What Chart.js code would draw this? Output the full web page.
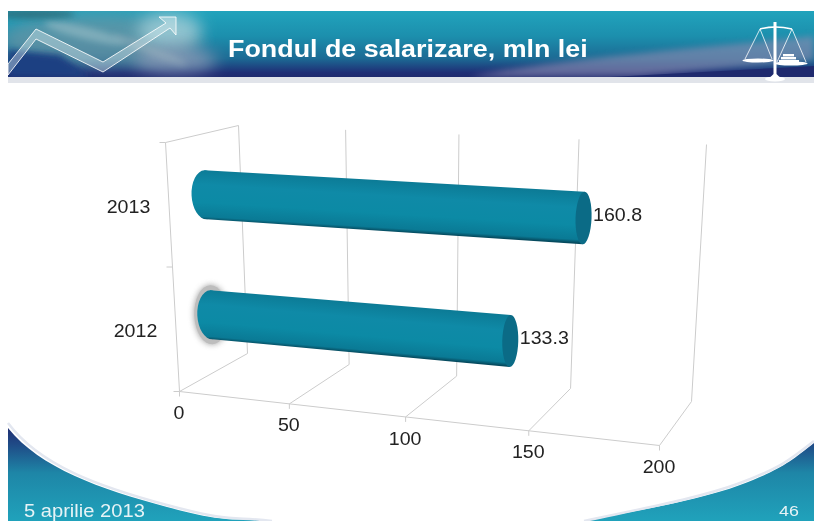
<!DOCTYPE html>
<html lang="ro">
<head>
<meta charset="utf-8">
<style>
html,body{margin:0;padding:0;background:#fff;width:814px;height:521px;overflow:hidden}
#stage{position:relative;width:814px;height:521px;font-family:"Liberation Sans",Arial,sans-serif}
#bg,#c{position:absolute;left:0;top:0}
.t{position:absolute;white-space:nowrap;transform-origin:left center}
#title{left:228px;top:35px;font-size:23.5px;font-weight:bold;color:#fff;line-height:28px;transform:scaleX(1.143)}
#date{left:24px;top:501px;font-size:17.5px;color:#e6f3f6;line-height:20px;transform:scaleX(1.15)}
#page{left:779px;top:502px;font-size:15.5px;color:#e6f3f6;line-height:18px;transform:scaleX(1.15)}
</style>
</head>
<body>
<div id="stage">
<svg id="bg" width="814" height="521" viewBox="0 0 814 521" xmlns="http://www.w3.org/2000/svg">
  <defs>
    <linearGradient id="band" x1="0" y1="11" x2="0" y2="77" gradientUnits="userSpaceOnUse">
      <stop offset="0" stop-color="#21a3bc"/><stop offset=".38" stop-color="#1c8fad"/>
      <stop offset=".72" stop-color="#1c6a94"/><stop offset=".93" stop-color="#1f2f76"/><stop offset="1" stop-color="#1f2a6e"/>
    </linearGradient>
    <linearGradient id="foot" x1="0" y1="425" x2="0" y2="521" gradientUnits="userSpaceOnUse">
      <stop offset="0" stop-color="#1f2a70"/><stop offset=".2" stop-color="#1f4a86"/>
      <stop offset=".5" stop-color="#1e86a7"/><stop offset="1" stop-color="#20a2bb"/>
    </linearGradient>
    <filter id="b8" x="-40%" y="-80%" width="180%" height="260%"><feGaussianBlur stdDeviation="8"/></filter>
    <filter id="b3" x="-30%" y="-80%" width="160%" height="260%"><feGaussianBlur stdDeviation="3"/></filter>
    <clipPath id="bandClip"><rect x="8" y="11" width="806" height="66"/></clipPath>
  </defs>
  <rect x="8" y="77" width="806" height="6" fill="#e1e4ea"/>
  <rect x="8" y="11" width="806" height="66" fill="url(#band)"/>
  <g clip-path="url(#bandClip)">
    <ellipse cx="100" cy="40" rx="100" ry="26" fill="#6f96a5" opacity=".7" filter="url(#b8)"/>
    <ellipse cx="170" cy="30" rx="32" ry="18" fill="#a6d3dc" opacity=".75" filter="url(#b8)"/>
    <ellipse cx="175" cy="60" rx="42" ry="13" fill="#8f9cb8" opacity=".8" filter="url(#b8)"/>
    <ellipse cx="85" cy="33" rx="42" ry="6" transform="rotate(14 85 33)" fill="#8fb7c2" opacity=".7" filter="url(#b3)"/>
    <ellipse cx="150" cy="50" rx="40" ry="4" transform="rotate(22 150 50)" fill="#9db4c0" opacity=".5" filter="url(#b3)"/>
    <ellipse cx="30" cy="14" rx="45" ry="5" fill="#2f6f7f" opacity=".9" filter="url(#b3)"/>
    <path d="M8 50 L60 55 L90 77 L8 77Z" fill="#1c3f82" filter="url(#b3)"/>
    <path d="M470 77 C560 58 680 50 814 36 L814 60 L640 76Z" fill="#8f8fb4" opacity=".6" filter="url(#b3)"/>
    <path d="M610 77 L814 66 L814 77Z" fill="#1f2a6e"/>
    <polygon points="8,64 36,29 103,62 166,23 159,17 176,17 176,35 170,28 103,72 36,39 8,75" fill="#dfeef3" fill-opacity=".38" stroke="#fff" stroke-opacity=".85" stroke-width="1"/>
  </g>
  <g fill="#fff" stroke="#fff">
    <path d="M773.5 22h3v52l3 3h-9l3-3z" stroke="none"/>
    <ellipse cx="775" cy="79" rx="10" ry="2.5" stroke="none"/>
    <path d="M760 29 Q775 25 792 29" fill="none" stroke-width="1.4"/>
    <path d="M760 29 L745 59 M760 29 L772 59 M792 29 L777 62 M792 29 L806 62" fill="none" stroke-width=".8"/>
    <ellipse cx="758" cy="60.5" rx="15.5" ry="2" stroke="none"/>
    <ellipse cx="791" cy="63.5" rx="16.5" ry="2" stroke="none"/>
    <rect x="783" y="54" width="11" height="2.4" stroke="none"/>
    <rect x="781" y="57" width="15" height="2.4" stroke="none"/>
    <rect x="779" y="60" width="20" height="2.6" stroke="none"/>
  </g>
  <path d="M8 521 L8 428 C40 468 100 489 167 507 S232 517 272 521Z" fill="url(#foot)"/>
  <path d="M8 423 C40 466 100 487 167 505 S232 516 272 521" fill="none" stroke="#e3e7f0" stroke-width="2.5"/>
  <path d="M584 521 C640 510 700 500 740 485 S790 462 814 443 L814 521Z" fill="url(#foot)"/>
  <path d="M584 521 C640 509 700 498 740 483 S790 460 814 441" fill="none" stroke="#e3e7f0" stroke-width="2.5"/>
</svg>
<canvas id="c" width="814" height="521"></canvas>
<div class="t" id="title">Fondul de salarizare, mln lei</div>
<div class="t" id="date">5 aprilie 2013</div>
<div class="t" id="page">46</div>
</div>
<script src="https://cdn.jsdelivr.net/npm/chart.js@4/dist/chart.umd.min.js"></script>
<script>
const categories = ['2013', '2012'];
const fondValues = [160.8, 133.3];
const xTickValues = [0, 50, 100, 150, 200];

/* The 3D box the slide's chart sits in: eight screen corners and a perspective warp. */
const BOX = {
  fbl:[179,391], fbr:[659,445], ftl:[165,142], ftr:[675,175],
  bbl:[247,353], bbr:[691,401], btl:[238,125], btr:[706,144], warp:1.123
};
const LABEL_FONT='18.5px "Liberation Sans",Arial,sans-serif';
const CAP_INSET=0.0125;   /* how far the round base sits inside the zero plane */
const mix = (a,b,t)=>[a[0]+(b[0]-a[0])*t, a[1]+(b[1]-a[1])*t];
const warp = u => u/(BOX.warp-(BOX.warp-1)*u);
function project(u,d,h){
  const w = warp(u);
  const front = mix(mix(BOX.fbl,BOX.fbr,w), mix(BOX.ftl,BOX.ftr,w), h);
  const back  = mix(mix(BOX.bbl,BOX.bbr,w), mix(BOX.btl,BOX.btr,w), h);
  return mix(front,back,d);
}
const barDepth = u => 0.44 + 0.095*warp(u);

function line(ctx,a,b){ctx.beginPath();ctx.moveTo(a[0]+.5,a[1]+.5);ctx.lineTo(b[0]+.5,b[1]+.5);ctx.stroke();}
function wideText(ctx,s,x,y,align){
  ctx.save();ctx.translate(x,y);ctx.scale(1.06,1);ctx.textAlign=align;ctx.textBaseline='middle';
  ctx.fillText(s,0,0);ctx.restore();
}
function shade(g){
  g.addColorStop(0,'#0c7b96');g.addColorStop(.3,'#0f8aa7');g.addColorStop(.65,'#0c8aa5');
  g.addColorStop(.93,'#0a7a95');g.addColorStop(1,'#064a5e');return g;
}

function drawCylinder(ctx,el,area,xs,idx){
  const u0=(xs.getPixelForValue(0)-xs.left)/xs.width+CAP_INSET, u1=(el.x-xs.left)/xs.width;
  const h=(area.bottom-el.y)/area.height, r=el.height/2/area.height;
  const d0=barDepth(u0), d1=barDepth(u1);
  const T0=project(u0,d0,h+r),B0=project(u0,d0,h-r),T1=project(u1,d1,h+r),B1=project(u1,d1,h-r);
  const C0=mix(T0,B0,.5),C1=mix(T1,B1,.5);
  const ell=(C,T,B,rx)=>{
    const ry=Math.hypot(T[0]-B[0],T[1]-B[1])/2, rot=Math.atan2(T[1]-B[1],T[0]-B[0])+Math.PI/2;
    ctx.beginPath();ctx.ellipse(C[0],C[1],rx,ry,rot,0,Math.PI*2);
  };
  if(categories[idx]==='2012'){
    ctx.save();ctx.shadowColor='rgba(130,130,130,.8)';ctx.shadowBlur=6;ctx.fillStyle='#bdbdbd';
    ell(C0,[T0[0],T0[1]-5],[B0[0],B0[1]+5],17);ctx.fill();ctx.restore();
  }
  const halfH=(Math.hypot(T0[0]-B0[0],T0[1]-B0[1])+Math.hypot(T1[0]-B1[0],T1[1]-B1[1]))/4;
  ctx.fillStyle=shade(ctx.createLinearGradient(C0[0],C0[1]-halfH,C0[0],C0[1]+halfH));
  ell(C0,T0,B0,14);ctx.fill();
  /* body: the shading is sheared so it stays parallel to the bar */
  const slope=(C1[1]-C0[1])/(C1[0]-C0[0]);
  ctx.save();
  ctx.beginPath();ctx.moveTo(T0[0],T0[1]);ctx.lineTo(T1[0],T1[1]);ctx.lineTo(B1[0],B1[1]);ctx.lineTo(B0[0],B0[1]);ctx.closePath();
  ctx.clip();
  ctx.transform(1,slope,0,1,0,-slope*C0[0]);
  ctx.fillStyle=shade(ctx.createLinearGradient(0,C0[1]-halfH,0,C0[1]+halfH));
  ctx.fillRect(C0[0]-20,C0[1]-halfH-10,C1[0]-C0[0]+40,2*halfH+20);
  ctx.restore();
  ctx.fillStyle='#0b6b86';ell(C1,T1,B1,8);ctx.fill();
  return {end:C1};
}

const box3d = {
  id:'box3d',
  beforeDatasetsDraw(chart){
    const ctx=chart.ctx, xs=chart.scales.x;
    ctx.save();ctx.strokeStyle='#cccccc';ctx.lineWidth=1;
    const U=v=>(xs.getPixelForValue(v)-xs.left)/xs.width;
    line(ctx,BOX.fbl,BOX.ftl);line(ctx,BOX.ftl,BOX.btl);line(ctx,BOX.btl,BOX.bbl);line(ctx,BOX.bbl,BOX.fbl);
    line(ctx,BOX.fbl,BOX.fbr);
    [0,.5,1].forEach(h=>{const p=project(0,0,h);line(ctx,p,[p[0]-6,p[1]]);});
    ctx.fillStyle='#222';ctx.font=LABEL_FONT;
    xTickValues.forEach(v=>{
      const u=U(v), f=project(u,0,0), b=project(u,1,0), t=project(u,1,1);
      line(ctx,f,[f[0],f[1]+5]);
      if(v>0){line(ctx,f,b);line(ctx,b,t);}
      wideText(ctx,String(v),f[0],f[1]+23,'center');
    });
    const ys=chart.scales.y;
    categories.forEach((c,i)=>{
      const h=(chart.chartArea.bottom-ys.getPixelForValue(i))/chart.chartArea.height;
      const p=project(0,0,h);
      wideText(ctx,c,p[0]-40,p[1]+3.5,'center');
    });
    ctx.restore();
  },
  beforeDatasetDraw(chart,args){
    const ctx=chart.ctx, xs=chart.scales.x;
    const meta=args.meta;
    ctx.save();
    meta.data.forEach((el,i)=>{
      const r=drawCylinder(ctx,el,chart.chartArea,xs,i);
      ctx.fillStyle='#222';ctx.font=LABEL_FONT;
      wideText(ctx,fondValues[i].toFixed(1),r.end[0]+9.5,r.end[1]-2.5,'left');
    });
    ctx.restore();
    return false;
  }
};

new Chart(document.getElementById('c'),{
  type:'bar',
  data:{labels:categories,datasets:[{label:'Fondul de salarizare, mln lei',data:fondValues,backgroundColor:'#0e8ca9',barPercentage:.408,categoryPercentage:1}]},
  options:{
    indexAxis:'y',responsive:false,animation:false,devicePixelRatio:1,
    layout:{padding:{left:180,right:155,top:125,bottom:130}},
    plugins:{legend:{display:false},tooltip:{enabled:false},title:{display:false}},
    scales:{
      x:{display:false,min:0,max:200,ticks:{stepSize:50}},
      y:{display:false,offset:true}
    }
  },
  plugins:[box3d]
});
</script>
</body>
</html>
